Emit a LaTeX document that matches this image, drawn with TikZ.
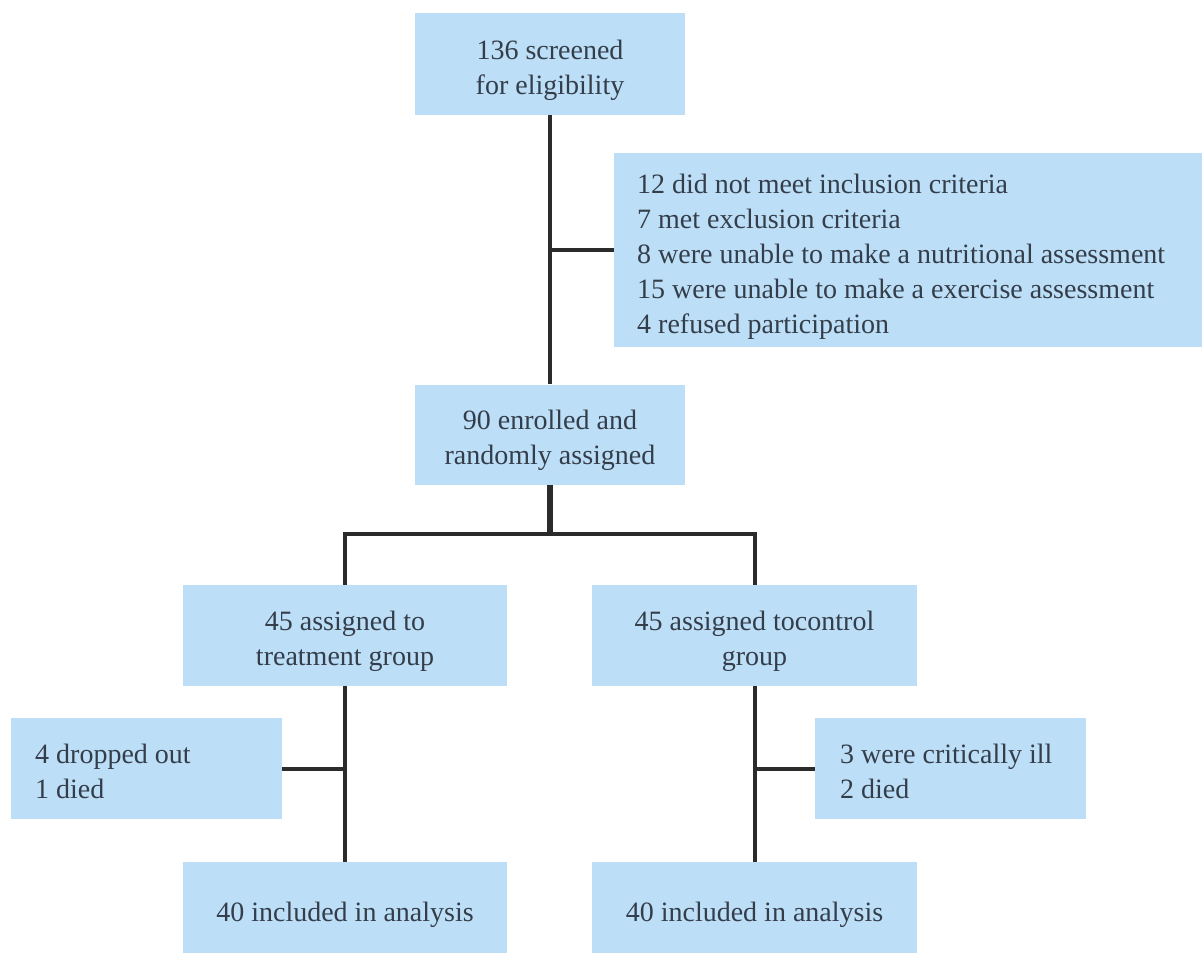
\documentclass[tikz,border=0pt]{standalone}
\usepackage{fontspec}
\setmainfont{Liberation Serif}
\definecolor{boxblue}{RGB}{189,222,247}
\definecolor{txtcol}{RGB}{52,62,74}
\definecolor{linecol}{RGB}{43,43,43}
% first-line strut (height sets vertical offset), last-line depth strut
\newcommand\fst[1]{\rule{0pt}{#1}}
\newcommand\lst{\rule[-10.5pt]{0pt}{0pt}}
\begin{document}
\begin{tikzpicture}[x=1pt,y=-1pt,
  box/.style={fill=boxblue, draw=none, inner sep=0pt, text=txtcol,
    font=\fontsize{28}{35}\selectfont},
  cbox/.style={box, align=center},
  lbox/.style={box, anchor=north west, align=flush left},
  conn/.style={draw=linecol, line width=4pt},
  trunk/.style={draw=linecol, line width=5.5pt}]
\useasboundingbox (0,0) rectangle (1202,953);
\fill[white] (0,0) rectangle (1202,953);

\node[cbox, minimum width=270pt, minimum height=102pt] (top) at (550,64)
  {\fst{36.5pt}136 screened\\for eligibility\lst};
\node[lbox, text width=542pt, inner xsep=23pt, minimum height=194pt] (excl) at (614,153)
  {\fst{36.5pt}12 did not meet inclusion criteria\\
   7 met exclusion criteria\\
   8 were unable to make a nutritional assessment\\
   15 were unable to make a exercise assessment\\
   4 refused participation\lst};
\node[cbox, minimum width=270pt, minimum height=100pt] (enr) at (550,434.5)
  {\fst{34.5pt}90 enrolled and\\randomly assigned\lst};
\node[cbox, minimum width=324pt, minimum height=101pt] (treat) at (345,635.5)
  {\fst{34.5pt}45 assigned to\\treatment group\lst};
\node[cbox, minimum width=325pt, minimum height=101pt] (ctrl) at (754.5,635.5)
  {\fst{34.5pt}45 assigned tocontrol\\group\lst};
\node[lbox, text width=223pt, inner xsep=24pt, minimum height=101pt] (drop) at (11,718)
  {\fst{34.5pt}4 dropped out\\1 died\lst};
\node[lbox, text width=221pt, inner xsep=25pt, minimum height=101pt] (ill) at (815,718)
  {\fst{34.5pt}3 were critically ill\\2 died\lst};
\node[cbox, minimum width=324pt, minimum height=101pt] (anl) at (345,912.5)
  {\fst{28.5pt}40 included in analysis\lst};
\node[cbox, minimum width=325pt, minimum height=101pt] (anr) at (754.5,912.5)
  {\fst{28.5pt}40 included in analysis\lst};

\coordinate (split) at (550,534);
\draw[conn] (top.south) -- (enr.north);
\draw[conn] (top.south |- excl.west) -- (excl.west);
\draw[trunk] (enr.south) -- (split);
\draw[conn] (treat.north) |- (split) -| (ctrl.north);
\draw[conn] (treat.south) -- (anl.north);
\draw[conn] (drop.east) -- (drop.east -| treat.south);
\draw[conn] (ctrl.south) -- (anr.north);
\draw[conn] (ill.west) -- (ill.west -| ctrl.south);
\end{tikzpicture}
\end{document}
